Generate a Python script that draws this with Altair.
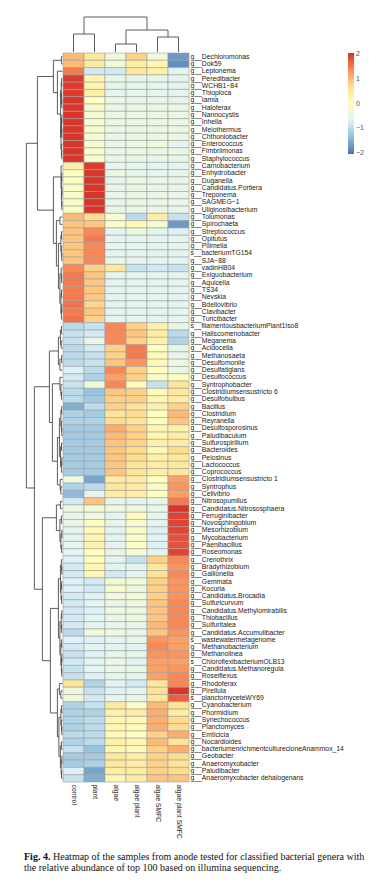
import altair as alt
import pandas as pd

# ---------------- data ----------------
samples = ["control", "plant", "algae", "algae plant", "algae SMFC", "algae plant SMFC"]

genera = [
    "g__Dechloromonas", "g__Dok59", "g__Leptonema", "g__Peredibacter", "g__WCHB1\u221284",
    "g__Thioploca", "g__Iamia", "g__Haloferax", "g__Nannocystis", "g__Inhella",
    "g__Meiothermus", "g__Chthoniobacter", "g__Enterococcus", "g__Fimbriimonas", "g__Staphylococcus",
    "g__Carnobacterium", "g__Enhydrobacter", "g__Duganella", "g__Candidatus.Portiera", "g__Treponema",
    "g__SAGMEG\u22121", "g__Uliginosibacterium", "g__Tolumonas", "g__Spirochaeta", "g__Streptococcus",
    "g__Opitutus", "g__Pilimelia", "s__bacteriumTG154", "g__SJA\u221288", "g__vadinHB04",
    "g__Exiguobacterium", "g__Aquicella", "g__TS34", "g__Nevskia", "g__Bdellovibrio",
    "g__Clavibacter", "g__Turicibacter", "s__filamentousbacteriumPlant1Iso8", "g__Haliscomenobacter", "g__Meganema",
    "g__Acidocella", "g__Methanosaeta", "g__Desulfomonile", "g__Desulfatiglans", "g__Desulfococcus",
    "g__Syntrophobacter", "g__Clostridiumsensustricto 6", "g__Desulfobulbus", "g__Bacillus", "g__Clostridium",
    "g__Reyranella", "g__Desulfosporosinus", "g__Paludibaculum", "g__Sulfurospirillum", "g__Bacteroides",
    "g__Pelosinus", "g__Lactococcus", "g__Coprococcus", "g__Clostridiumsensustricto 1", "g__Syntrophus",
    "g__Cellvibrio", "g__Nitrosopumilus", "g__Candidatus.Nitrososphaera", "g__Ferruginibacter", "g__Novosphingobium",
    "g__Mesorhizobium", "g__Mycobacterium", "g__Paenibacillus", "g__Roseomonas", "g__Crenothrix",
    "g__Bradyrhizobium", "g__Gallionella", "g__Gemmata", "g__Kocuria", "g__Candidatus.Brocadia",
    "g__Sulfuricurvum", "g__Candidatus.Methylomirabilis", "g__Thiobacillus", "g__Sulfuritalea", "g__Candidatus.Accumulibacter",
    "s__wastewatermetagenome", "g__Methanobacterium", "g__Methanolinea", "s__ChloroflexibacteriumOLB13", "g__Candidatus.Methanoregula",
    "g__Roseiflexus", "g__Rhodoferax", "g__Pirellula", "s__planctomyceteWY69", "g__Cyanobacterium",
    "g__Phormidium", "g__Synechococcus", "g__Planctomyces", "g__Emticicia", "g__Nocardioides",
    "g__bacteriumenrichmentculturecloneAnammox_14", "g__Geobacter", "g__Anaeromyxobacter", "g__Paludibacter", "g__Anaeromyxobacter dehalogenans",
]

control = [
    1.0, 1.0, 1.5, 1.95, 1.95, 1.95, 2.0, 2.0, 2.0, 2.0,
    2.0, 2.0, 2.0, 2.0, 2.0, 0.35, 0.0, -0.05, -0.1, -0.1,
    -0.1, -0.1, 1.0, 0.9, 0.9, 0.9, 0.9, 0.9, 0.9, 1.4,
    1.5, 1.5, 1.5, 1.5, 1.55, 1.5, 1.55, -1.0, -0.9, -0.9,
    -1.0, -1.0, -1.0, -0.7, -0.8, -0.9, -1.0, -1.0, -1.5, -1.1,
    -1.1, -1.2, -1.2, -1.2, -1.2, -1.2, -1.2, -1.2, -0.4, -1.1,
    -1.4, -0.8, -0.4, -0.5, -0.5, -0.6, -0.6, -0.6, -0.6, -0.7,
    -0.8, -0.8, -0.7, -0.7, -0.8, -0.8, -0.8, -0.8, -0.8, -1.0,
    -0.7, -0.8, -0.9, -0.8, -0.9, -0.9, 0.6, -0.4, -0.3, -1.1,
    -1.1, -1.1, -1.1, -1.0, -1.1, -0.9, -1.2, -1.2, -0.7, -0.9,
]
plant = [
    0.5, 0.5, -0.8, 0.2, 0.25, 0.35, 0.0, -0.2, -0.2, -0.2,
    -0.2, -0.25, -0.2, -0.2, -0.15, 1.95, 2.0, 2.0, 2.0, 2.0,
    2.0, 2.0, 0.7, 0.9, 1.4, 1.5, 1.4, 1.4, 1.4, 0.8,
    0.9, 0.9, 0.9, 0.9, 0.75, 0.9, 0.8, -0.9, -0.8, -0.5,
    -0.8, -0.9, -0.9, -1.0, -1.1, -0.3, -1.3, -1.2, -1.0, -1.2,
    -1.1, -1.2, -1.2, -1.2, -1.2, -1.2, -1.2, -1.2, -1.6, -1.0,
    -0.6, 0.9, -0.3, -0.4, 0.0, 0.1, 0.2, 0.3, 0.0, 0.0,
    0.2, 0.2, -0.8, -0.8, -0.7, -0.6, -0.7, -0.6, -0.6, -0.3,
    -0.7, -0.6, -0.7, -0.6, -0.6, -0.7, -1.1, -0.9, -0.8, -0.9,
    -1.1, -1.0, -1.0, -1.0, -1.0, -1.3, -1.2, -1.1, -1.6, -1.5,
]
algae = [
    -0.3, -0.3, -0.8, -0.5, -0.5, -0.6, -0.45, -0.45, -0.45, -0.45,
    -0.45, -0.45, -0.5, -0.45, -0.45, -0.55, -0.45, -0.55, -0.5, -0.5,
    -0.5, -0.5, -0.2, -0.1, -0.6, -0.6, -0.55, -0.55, -0.55, 0.5,
    -0.6, -0.6, -0.6, -0.6, -0.6, -0.6, -0.6, 1.4, 1.4, 1.4,
    0.8, 0.8, 0.9, 1.4, 1.2, 1.4, 0.9, 0.8, 0.8, 0.6,
    0.7, 1.1, 1.0, 0.9, 0.9, 0.9, 0.9, 0.9, 0.4, 0.5,
    0.4, -0.6, -0.4, -0.6, -0.5, -0.6, -0.6, -0.6, -0.5, -0.6,
    -0.6, -0.8, -0.3, -0.2, -0.3, -0.5, -0.4, -0.5, -0.5, -0.4,
    -0.6, -0.6, -0.5, -0.4, -0.5, -0.5, -0.6, -0.7, -0.6, 0.5,
    0.3, 0.2, 0.2, 0.1, 0.3, 0.2, 0.5, 0.5, 0.4, 0.2,
]
algae_plant = [
    0.8, 0.4, 0.5, -0.55, -0.55, -0.55, -0.5, -0.45, -0.45, -0.45,
    -0.45, -0.4, -0.4, -0.45, -0.45, -0.55, -0.5, -0.45, -0.45, -0.45,
    -0.45, -0.45, -1.0, 0.1, -0.4, -0.6, -0.55, -0.55, -0.55, -0.9,
    -0.6, -0.6, -0.6, -0.6, -0.55, -0.6, -0.55, 0.8, 0.9, 0.8,
    1.5, 1.5, 1.3, 0.8, 0.8, 0.1, 0.8, 0.8, 0.6, 0.7,
    0.6, 0.8, 0.8, 0.8, 0.7, 0.7, 0.6, 0.6, 0.4, 0.4,
    0.4, -0.6, -0.4, 0.1, -0.2, -0.1, -0.1, 0.0, -0.2, -0.9,
    -0.6, -0.6, -0.3, -0.4, -0.3, -0.4, -0.4, -0.4, -0.5, -0.5,
    -0.5, -0.6, -0.5, -0.6, -0.5, -0.5, -0.8, -0.6, -0.5, -0.1,
    0.4, 0.1, 0.1, 0.0, 0.2, 0.1, 0.4, 0.4, 0.4, 0.4,
]
algae_smfc = [
    -0.3, 0.2, 0.3, -0.5, -0.55, -0.55, -0.5, -0.45, -0.45, -0.45,
    -0.45, -0.45, -0.35, -0.45, -0.45, -0.6, -0.55, -0.45, -0.45, -0.45,
    -0.45, -0.45, 0.4, -0.2, -0.6, -0.6, -0.6, -0.6, -0.6, -0.8,
    -0.6, -0.6, -0.6, -0.6, -0.55, -0.6, -0.6, 0.3, 0.4, 0.3,
    0.0, 0.1, 0.1, 0.0, -0.1, -0.9, 0.1, 0.2, 0.3, 0.0,
    0.0, 0.2, 0.2, 0.3, 0.1, 0.3, 0.4, 0.4, 0.0, -0.1,
    0.0, -0.5, -0.5, -0.5, -0.6, -0.7, -0.6, -0.7, -0.6, 0.8,
    0.5, 0.6, 0.8, 0.8, 0.8, 0.9, 0.9, 0.9, 1.0, 0.9,
    1.3, 1.4, 1.3, 1.2, 1.2, 1.2, 0.5, 0.6, 0.5, 1.0,
    1.1, 1.1, 1.1, 0.8, 1.0, 0.8, 0.8, 0.8, 0.8, 0.9,
]
algae_plant_smfc = [
    -1.7, -1.8, -0.6, -0.6, -0.6, -0.6, -0.55, -0.45, -0.45, -0.45,
    -0.45, -0.45, -0.6, -0.45, -0.5, -0.6, -0.5, -0.5, -0.5, -0.5,
    -0.5, -0.5, -0.9, -1.7, -0.7, -0.6, -0.6, -0.6, -0.6, -0.9,
    -0.6, -0.6, -0.6, -0.6, -0.6, -0.6, -0.6, -0.5, -1.0, -1.1,
    -0.5, -0.5, -0.4, -0.5, 0.0, 0.6, 0.5, 0.4, 0.8, 1.0,
    0.9, 0.3, 0.4, 0.4, 0.7, 0.5, 0.5, 0.5, 1.2, 1.3,
    1.2, 1.5, 2.0, 1.9, 1.9, 1.9, 1.8, 1.8, 1.9, 1.4,
    1.3, 1.4, 1.3, 1.3, 1.3, 1.4, 1.4, 1.4, 1.4, 1.3,
    1.2, 1.2, 1.3, 1.2, 1.3, 1.4, 1.4, 2.0, 1.7, 0.6,
    0.4, 0.7, 0.7, 1.1, 0.6, 1.1, 0.7, 0.6, 0.7, 0.9,
]

# dendrograms: [distance, left, right]; leaves are row / column indices
col_tree = [35, [18, 0, 1], [22, [8, 2, 3], [15, 4, 5]]]

row_tree = [36,
    [25,
        [9, [1.0, 0, 1],
            [5, 2, [1.8, [1.2, [0.8, 3, 4], [0.9, 5, [0.6, 6, 7]]],
                         [1.4, [0.9, [0.5, 8, 9], [0.6, 10, 11]], [1.0, 12, [0.7, 13, 14]]]]]],
        [9, [1.3, 15, [1.0, [0.6, 16, 17], [0.8, [0.5, 18, 19], [0.6, 20, 21]]]],
            [6, [2.5, 22, 23],
                [4, [1.5, [0.9, 24, 25], [1.0, 26, [0.6, 27, 28]]],
                    [2.5, [1.2, 29, [0.8, 30, 31]], [1.5, [0.9, 32, 33], [1.0, [0.6, 34, 35], 36]]]]]]],
    [28,
        [13,
            [4, [2, [1.0, 37, 38], [1.2, 39, 40]], [2.5, [0.8, 41, 42], 43]],
            [10, [2.5, 44, [1.5, 45, [0.9, 46, 47]]],
                [5, [3, [1.5, [0.8, 48, 49], [1.0, 50, [0.6, 51, 52]]],
                        [1.8, [0.9, 53, 54], [1.0, [0.6, 55, 56], 57]]],
                    [2.2, 58, [1.5, 59, 60]]]]],
        [20,
            [6, [2, 61, 62], [2.5, [1.0, 63, 64], [1.5, [0.6, 65, 66], [0.8, 67, 68]]]],
            [12,
                [4, [2.0, [1.0, 69, [0.6, 70, 71]], [1.4, [0.7, 72, 73], [0.8, 74, 75]]],
                    [2.5, [1.2, [0.6, 76, 77], [0.8, 78, 79]], [1.5, [0.8, 80, 81], [1.0, [0.5, 82, 83], [0.6, 84, 85]]]]],
                [5, [3, 86, [1.5, 87, 88]],
                    [3.5, [1.5, [0.8, 89, 90], [1.0, 91, [0.6, 92, 93]]],
                         [2, [1.0, 94, 95], [1.2, [0.6, 96, 97], [0.8, 98, 99]]]]]]]]]

caption_bold = "Fig. 4."
caption_line1 = "Heatmap of the samples from anode tested for classified bacterial genera with"
caption_line2 = "the relative abundance of top 100 based on illumina sequencing."

# ---------------- layout (pixels inside the plot area) ----------------
W, H = 367, 870
X0, CW = 55.0, 21.0      # heatmap left edge, column width
Y0, RH = 45.0, 7.29      # heatmap top edge, row height
x_dom = [(0 - X0) / CW, (W - X0) / CW]
y_dom = [(0 - Y0) / RH, (H - Y0) / RH]
xs = alt.Scale(domain=x_dom, nice=False, zero=False)
ys = alt.Scale(domain=y_dom, nice=False, zero=False, reverse=True)

series = [control, plant, algae, algae_plant, algae_smfc, algae_plant_smfc]
cells = []
for ci, vals in enumerate(series):
    for ri, v in enumerate(vals):
        cells.append({"c": ci, "c2": ci + 1, "r": ri, "r2": ri + 1, "v": v,
                      "sample": samples[ci], "genus": genera[ri]})
cells = pd.DataFrame(cells)

pal = ["#4575B4", "#91BFDB", "#E0F3F8", "#FFFFBF", "#FEE090", "#FC8D59", "#D73027"]
vmax = 2.04
cdom = [-vmax + i * (2 * vmax / 6) for i in range(7)]

heat = alt.Chart(cells).mark_rect(stroke="#a0a0a0", strokeWidth=0.6).encode(
    x=alt.X("c:Q", scale=xs, axis=None),
    x2="c2:Q",
    y=alt.Y("r:Q", scale=ys, axis=None),
    y2="r2:Q",
    color=alt.Color("v:Q", scale=alt.Scale(domain=cdom, range=pal, interpolate="rgb"),
                    legend=alt.Legend(orient="none", legendX=340, legendY=45, direction="vertical",
                                      title=None, gradientLength=101, gradientThickness=6,
                                      gradientStrokeWidth=0, values=[-2, -1, 0, 1, 2],
                                      labelFontSize=7, labelColor="#555", labelOffset=2,
                                      labelFont="Liberation Sans", padding=0)),
)

# dendrogram segments
def walk(node, kind, out):
    if isinstance(node, int):
        return node + 0.5, 0.0
    h, a, b = node
    pa, ha = walk(a, kind, out)
    pb, hb = walk(b, kind, out)
    if kind == "row":
        f = lambda d: -(d + 0.6) / CW
        out.append({"dx": f(ha), "dx2": f(h), "dy": pa, "dy2": pa})
        out.append({"dx": f(hb), "dx2": f(h), "dy": pb, "dy2": pb})
        out.append({"dx": f(h), "dx2": f(h), "dy": pa, "dy2": pb})
    else:
        f = lambda d: -(d + 1.0) / RH
        out.append({"dx": pa, "dx2": pa, "dy": f(ha), "dy2": f(h)})
        out.append({"dx": pb, "dx2": pb, "dy": f(hb), "dy2": f(h)})
        out.append({"dx": pa, "dx2": pb, "dy": f(h), "dy2": f(h)})
    return (pa + pb) / 2, h

row_segs, col_segs = [], []
walk(row_tree, "row", row_segs)
walk(col_tree, "col", col_segs)

def dend_layer(segs):
    return alt.Chart(pd.DataFrame(segs)).mark_rule(color="#4a4a4a", strokeWidth=0.9).encode(
        x=alt.X("dx:Q", scale=xs, axis=None), x2="dx2:Q",
        y=alt.Y("dy:Q", scale=ys, axis=None), y2="dy2:Q",
    )

row_dend = dend_layer(row_segs)
col_dend = dend_layer(col_segs)

rlab = pd.DataFrame({"genus": genera, "r": [i + 0.5 for i in range(len(genera))],
                     "lx": [6 + 1.5 / CW] * len(genera)})
row_text = alt.Chart(rlab).mark_text(align="left", baseline="middle", fontSize=6.8,
                                     font="Liberation Sans", color="#222").encode(
    x=alt.X("lx:Q", scale=xs, axis=None), y=alt.Y("r:Q", scale=ys, axis=None), text="genus:N")

clab = pd.DataFrame({"sample": samples, "c": [i + 0.5 for i in range(6)],
                     "ly": [100 + 2.5 / RH] * 6})
col_text = alt.Chart(clab).mark_text(align="left", baseline="middle", angle=90, fontSize=6.8,
                                     font="Liberation Sans", color="#222").encode(
    x=alt.X("c:Q", scale=xs, axis=None), y=alt.Y("ly:Q", scale=ys, axis=None), text="sample:N")

one = pd.DataFrame({"k": [0]})
cap_b = alt.Chart(one).mark_text(text=caption_bold, align="left", baseline="middle", fontSize=10,
                                 fontWeight="bold", font="Liberation Serif", color="#111").encode(
    x=alt.value(16), y=alt.value(849))
cap_1 = alt.Chart(one).mark_text(text=caption_line1, align="left", baseline="middle", fontSize=10,
                                 font="Liberation Serif", color="#111").encode(
    x=alt.value(45), y=alt.value(849))
cap_2 = alt.Chart(one).mark_text(text=caption_line2, align="left", baseline="middle", fontSize=10,
                                 font="Liberation Serif", color="#111").encode(
    x=alt.value(16), y=alt.value(860))

chart = alt.layer(heat, row_dend, col_dend, row_text, col_text, cap_b, cap_1, cap_2).properties(
    width=W, height=H, padding=0, autosize=alt.AutoSizeParams(type="none")
).configure_view(stroke=None)

chart.save("out.html", embed_options={"renderer": "svg", "actions": False})
